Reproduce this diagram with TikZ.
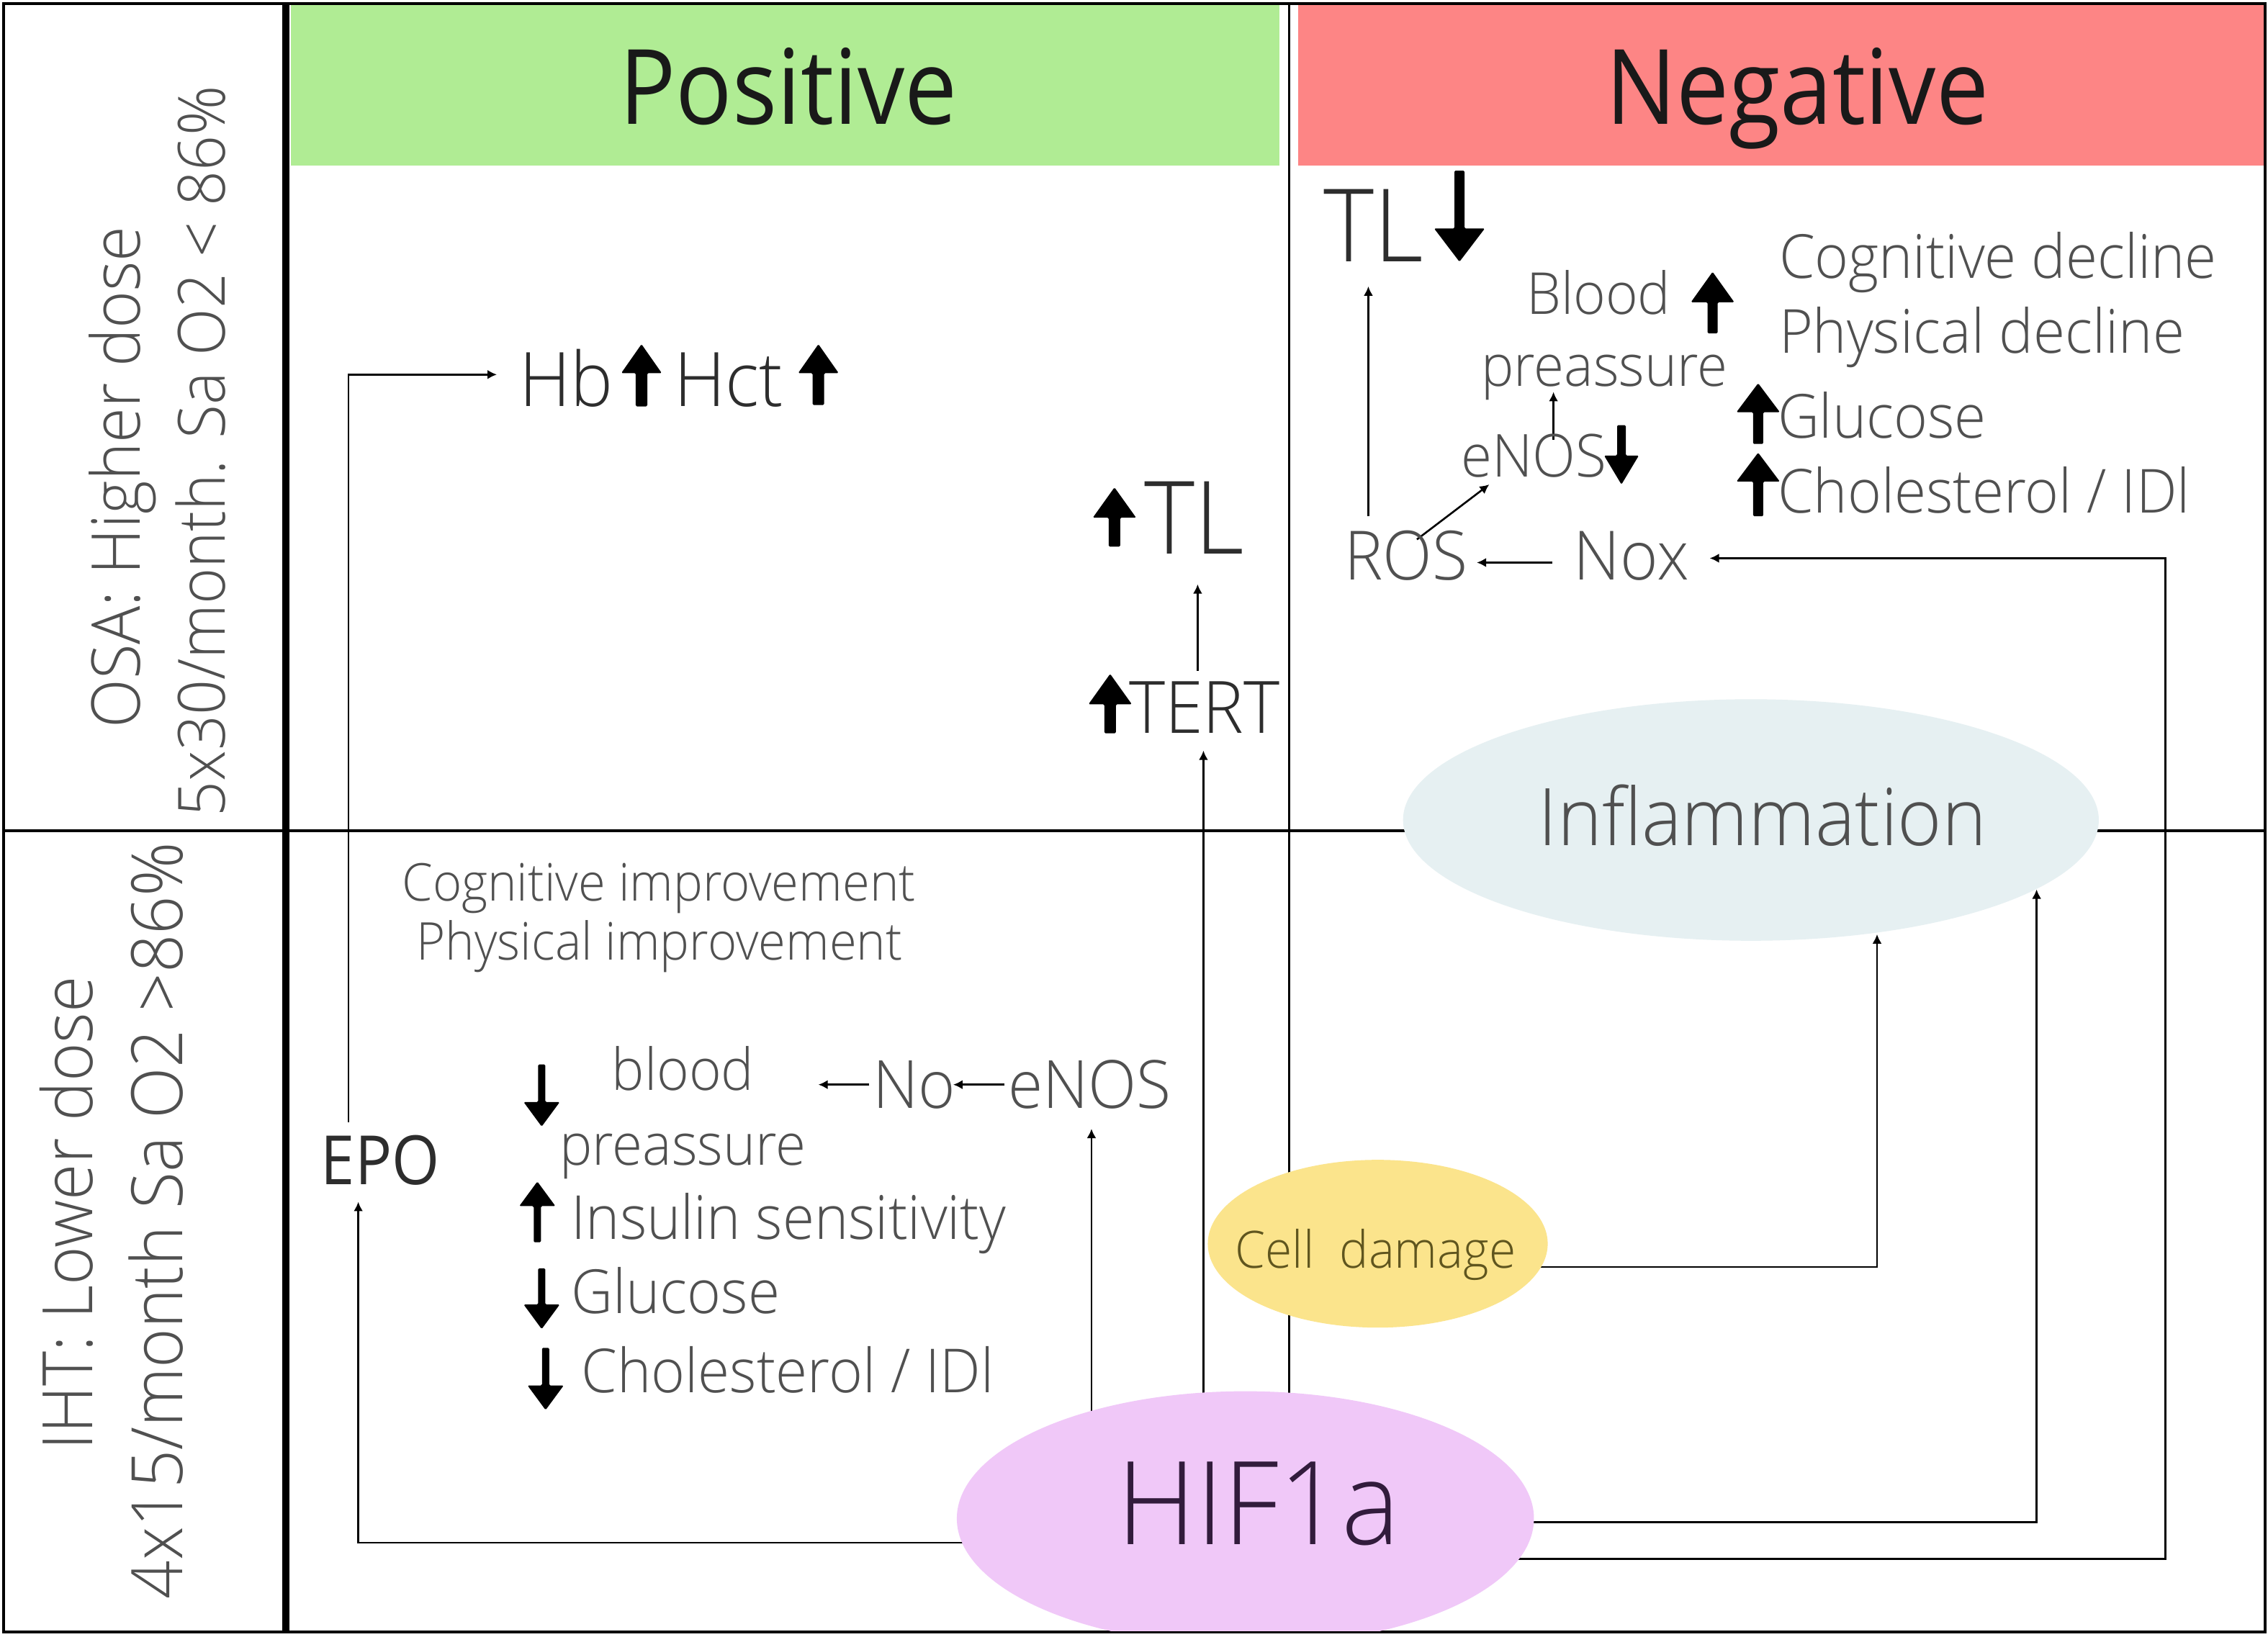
\documentclass[tikz,border=0pt]{standalone}
\usepackage{fontspec}
\IfFontExistsTF{Open Sans Light}
  {\setmainfont[FakeStretch=0.95]{Open Sans Light}}
  {\setmainfont[FakeStretch=0.9]{Open Sans}}
\newfontfamily\regfont[FakeStretch=0.9]{Open Sans}
\usetikzlibrary{arrows.meta,shapes.geometric,calc}
\definecolor{posgreen}{RGB}{176,236,148}
\definecolor{negred}{RGB}{253,133,133}
\definecolor{hifpurple}{RGB}{240,200,248}
\definecolor{cellyellow}{RGB}{251,228,140}
\definecolor{inflblue}{RGB}{230,240,242}
\definecolor{txtgrey}{RGB}{80,80,80}
\definecolor{txtdark}{RGB}{45,45,45}
\definecolor{hiftext}{RGB}{50,28,60}
\definecolor{celltext}{RGB}{95,85,30}
\newcommand\fsz[1]{\fontsize{#1}{#1}\selectfont}
% x, tip y, head-base y, tail y, head half width, shaft half width
\newcommand\blockarrow[6]{\fill[black,rounded corners=0.8pt] (#1,#2) -- ({#1+#5},#3) -- ({#1+#6},#3) -- ({#1+#6},#4) -- ({#1-#6},#4) -- ({#1-#6},#3) -- ({#1-#5},#3) -- cycle;}
\pgfdeclarelayer{back}
\pgfdeclarelayer{wires}
\pgfsetlayers{back,wires,main}
\begin{document}
\begin{tikzpicture}[x=1pt,y=-1pt,
  txt/.style={inner sep=0pt, outer sep=0pt},
  gr/.style={txt, text=txtgrey},
  dk/.style={txt, text=txtdark},
  hdr/.style={txt, text=black!90, font=\regfont\fsz{72}, anchor=base},
  side/.style={txt, text=txtgrey, rotate=90, anchor=base},
  blob/.style={ellipse, inner sep=0pt, draw=none},
  conn/.style={draw=black, line width=1.3pt, -{Latex[length=6.5pt,width=6.5pt]}}]
\useasboundingbox (0,0) rectangle (1568,1131.5);

\begin{pgfonlayer}{back}
  \fill[white] (0,0) rectangle (1568,1131.5);
  \fill[posgreen] (201,3.5) rectangle (884.5,114.5);
  \fill[negred] (897.5,3.5) rectangle (1565,114.5);
  \draw[line width=1.8pt] (2.5,2.5) rectangle (1566,1128.5);
  \draw[line width=5pt] (197.6,2.5) -- (197.6,1128.5);
  \draw[line width=1.8pt] (2.5,574.5) -- (1566,574.5);
  \draw[line width=1.5pt] (891.5,2.5) -- (891.5,990);
\end{pgfonlayer}

% headers
\node[hdr] (pos) at (545,86) {Positive};
\node[hdr] (neg) at (1242.5,86) {Negative};

% side labels
\node[side, font=\fsz{46.5}] (osa) at (97,330) {OSA: Higher dose};
\node[side, font=\fsz{45}] (osadose) at (155.5,312) {5x30/month. Sa O2 < 86\%};
\node[side, font=\fsz{48}] (iht) at (64,839) {IHT: Lower dose};
\node[side, font=\fsz{49}] (ihtdose) at (126,844) {4x15/month Sa O2 >86\%};

% ellipses
\node[blob, fill=inflblue, minimum width=481pt, minimum height=167pt] (infl) at (1210.5,567) {};
\node[gr, font=\fsz{55}, anchor=base] (infltxt) at (1218.5,584.6) {Inflammation};
\node[blob, fill=cellyellow, minimum width=235pt, minimum height=116pt] (cell) at (952.5,860) {};
\node[txt, text=celltext, font=\fsz{35.5}, anchor=base] (celltxt) at (951,877) {Cell\ \ damage};
\begin{scope}
  \clip (0,0) rectangle (1568,1127.6);
  \node[blob, fill=hifpurple, minimum width=399pt, minimum height=176pt] (hif) at (861,1050) {};
\end{scope}
\node[txt, text=hiftext, font=\fsz{80}, anchor=base] (hiftxt) at (870,1068) {HIF1a};

% top left quadrant
\node[dk, font=\fsz{52}, anchor=base west] (hb) at (359,281) {Hb};
\node[dk, font=\fsz{52}, anchor=base west] (hct) at (466,281) {Hct};
\node[dk, font=\fsz{70}, anchor=base west] (tlp) at (791,383) {TL};
\node[dk, font=\fsz{50}, anchor=base west] (tert) at (780.6,507) {TERT};
\blockarrow{443.5}{238}{258}{281}{14}{4}
\blockarrow{565.8}{238}{258}{280}{14}{4}
\blockarrow{770.5}{337}{358}{378}{15}{4}
\blockarrow{767.5}{466}{487}{507}{15}{4}

% top right quadrant
\node[dk, font=\fsz{70}, anchor=base west] (tln) at (915,181) {TL};
\node[gr, font=\fsz{40}, anchor=base east] (bloodn) at (1155,217.5) {Blood};
\node[gr, font=\fsz{40}, anchor=base west] (pren) at (1024,267) {preassure};
\node[gr, font=\fsz{41}, anchor=base west] (enosn) at (1010,330) {eNOS};
\node[gr, font=\fsz{42}, anchor=base west] (cogd) at (1230,192.5) {Cognitive decline};
\node[gr, font=\fsz{42}, anchor=base west] (physd) at (1230,244) {Physical decline};
\node[gr, font=\fsz{42}, anchor=base west] (glun) at (1229,303) {Glucose};
\node[gr, font=\fsz{42}, anchor=base west] (choln) at (1229,354.5) {Cholesterol / IDl};
\node[gr, font=\fsz{47}, anchor=base west] (ros) at (929.5,401) {ROS};
\node[gr, font=\fsz{47}, anchor=base west] (nox) at (1088,401) {Nox};
\blockarrow{1009}{181}{158}{118}{17.5}{3.5}
\blockarrow{1184}{188}{209}{230.5}{15}{3.5}
\blockarrow{1121}{335}{315}{294}{12}{3}
\blockarrow{1215.5}{265}{285}{307}{15}{3.5}
\blockarrow{1215.5}{313}{333}{357}{15}{3.5}

% bottom left quadrant
\node[gr, font=\fsz{36}, anchor=base west] (cogi) at (278,623) {Cognitive improvement};
\node[gr, font=\fsz{36}, anchor=base west] (physi) at (288,664) {Physical improvement};
\node[gr, font=\fsz{40}, anchor=base west] (bloodp) at (423,754) {blood};
\node[gr, font=\fsz{40}, anchor=base west] (prep) at (386.8,805.5) {preassure};
\node[gr, font=\fsz{42}, anchor=base west] (ins) at (395,856.7) {Insulin sensitivity};
\node[gr, font=\fsz{42}, anchor=base west] (glup) at (395,908) {Glucose};
\node[gr, font=\fsz{42}, anchor=base west] (cholp) at (402,962.7) {Cholesterol / IDl};
\node[gr, font=\fsz{46}, anchor=base west] (no) at (603.5,766.5) {No};
\node[gr, font=\fsz{46}, anchor=base west] (enosp) at (697,766.5) {eNOS};
\node[dk, font=\regfont\fsz{47}, anchor=base west] (epo) at (222,819) {EPO};
\blockarrow{374.5}{779}{762}{736}{12.5}{2.5}
\blockarrow{371.5}{817}{834}{859}{12.5}{2.5}
\blockarrow{374.5}{919}{902}{877}{12.5}{2.5}
\blockarrow{377.2}{975}{958}{932}{12.5}{2.5}

% connectors
\begin{pgfonlayer}{wires}
  \draw[conn] ($(hif.center)+(0,16.7)$) -| ($(epo.base west)+(25.7,12)$);
  \draw[conn] ($(epo.base west)+(19,-43)$) |- ($(hb.base west)+(-15.5,-22)$);
  \draw[conn] ($(hif.center)+(-106.4,0)$) -- ($(enosp.base west)+(57.6,14)$);
  \draw[conn] ($(enosp.base west)+(-2.4,-16.5)$) -- ($(no.base west)+(55.5,-16.5)$);
  \draw[conn] ($(no.base west)+(-2.5,-16.5)$) -- ($(bloodp.base west)+(142.8,-4)$);
  \draw[conn] ($(hif.center)+(-29,0)$) -- ($(tert.base west)+(51.4,12)$);
  \draw[conn] ($(tert.base west)+(47.4,-43)$) -- ($(tlp.base west)+(37,21)$);
  \draw[conn] ($(hif.center)+(0,2.6)$) -| ($(infl.center)+(197.5,48)$);
  \draw[conn] ($(hif.center)+(0,28)$) -| ($(nox.base west)+(409,-15)$) -- ($(nox.base west)+(94,-15)$);
  \draw[conn] ($(cell.center)+(0,16)$) -| ($(infl.center)+(87.2,79)$);
  \draw[conn] ($(ros.base west)+(16.5,-44)$) -- ($(tln.base west)+(31,17)$);
  \draw[conn] ($(ros.base west)+(50.1,-28)$) -- ($(enosn.base west)+(19.6,5)$);
  \draw[conn] ($(nox.base west)+(-15,-12)$) -- ($(ros.base west)+(91.5,-12)$);
  \draw[conn] ($(enosn.base west)+(64,-26)$) -- ($(pren.base west)+(50,4)$);
\end{pgfonlayer}
\end{tikzpicture}
\end{document}
